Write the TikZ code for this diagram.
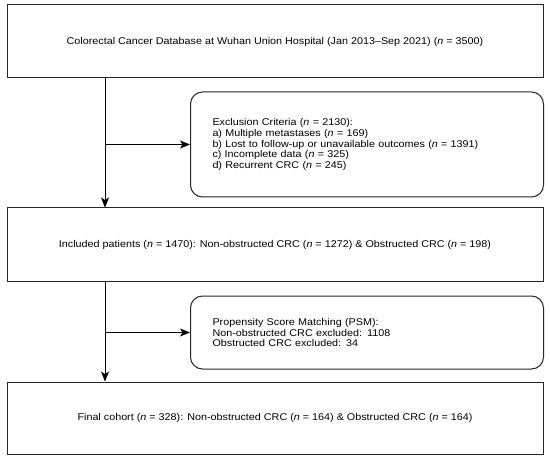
\documentclass[tikz,border=0pt]{standalone}
\usepackage{fontspec}
\setmainfont{Liberation Sans}[FakeStretch=1.1]
\usetikzlibrary{arrows.meta}
\begin{document}
\begin{tikzpicture}[x=1pt,y=-1pt,
  every node/.style={font=\fontsize{9.8}{10.9}\selectfont},
  mainbox/.style={draw=black!85, line width=1pt, minimum width=536pt, minimum height=73pt, inner sep=0pt},
  sidebox/.style={draw=black!85, line width=1pt, rounded corners=12pt, text width=309pt, inner xsep=22pt, inner ysep=0pt, align=left, anchor=west},
  arr/.style={line width=0.9pt, -{Stealth[length=10pt,width=8pt,inset=2.5pt]}}
]
\useasboundingbox (0,0) rectangle (550,460);
\node[mainbox] (b1) at (275,41.5) {Colorectal Cancer Database at Wuhan Union Hospital (Jan 2013--Sep 2021) (\textit{n} = 3500)};
\node[sidebox, minimum height=105pt] (ex) at (190,144.5) {Exclusion Criteria (\textit{n} = 2130):\\
a) Multiple metastases (\textit{n} = 169)\\
b) Lost to follow-up or unavailable outcomes (\textit{n} = 1391)\\
c) Incomplete data (\textit{n} = 325)\\
d) Recurrent CRC (\textit{n} = 245)};
\node[mainbox] (b2) at (275,244.5) {Included patients (\textit{n} = 1470): Non-obstructed CRC (\textit{n} = 1272) \& Obstructed CRC (\textit{n} = 198)};
\node[sidebox, minimum height=73pt] (psm) at (190,332.5) {Propensity Score Matching (PSM):\\
Non-obstructed CRC excluded: 1108\\
Obstructed CRC excluded: 34};
\node[mainbox, minimum height=72pt] (b3) at (275,418) {Final cohort (\textit{n} = 328): Non-obstructed CRC (\textit{n} = 164) \& Obstructed CRC (\textit{n} = 164)};
\coordinate (v) at (105,0);
\draw[arr] (b1.south -| v) -- (b2.north -| v);
\draw[arr] (v |- ex.west) -- (ex.west);
\draw[arr] (b2.south -| v) -- (b3.north -| v);
\draw[arr] (v |- psm.west) -- (psm.west);
\end{tikzpicture}
\end{document}
